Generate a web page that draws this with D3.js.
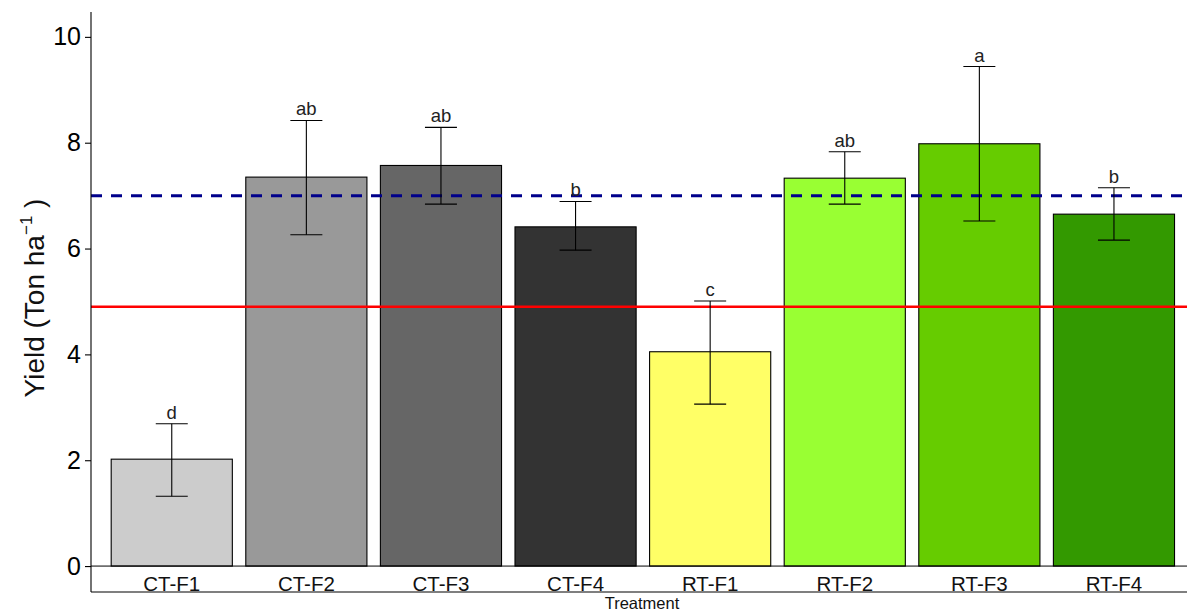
<!DOCTYPE html>
<html><head><meta charset="utf-8">
<script src="https://cdn.jsdelivr.net/npm/d3@7"></script>
<style>body{margin:0;background:#fff}svg{display:block}text{font-family:"Liberation Sans",Arial,sans-serif}</style>
</head><body>
<svg id="c" width="1187" height="613"></svg>
<script>
const categories = ["CT-F1","CT-F2","CT-F3","CT-F4","RT-F1","RT-F2","RT-F3","RT-F4"];
const yieldMean = [2.02, 7.35, 7.57, 6.41, 4.05, 7.33, 7.98, 6.65];
const errLow    = [1.32, 6.26, 6.84, 5.97, 3.06, 6.84, 6.52, 6.16];
const errHigh   = [2.69, 8.42, 8.29, 6.89, 5.01, 7.83, 9.44, 7.15];
const letters   = ["d","ab","ab","b","c","ab","a","b"];
const fills     = ["#CCCCCC","#999999","#666666","#333333","#FFFF66","#99FF33","#66CC00","#339900"];
const yTicks    = [0,2,4,6,8,10];
const refDashed = 7.0;
const refRed    = 4.9;

const svg = d3.select("#c");
const L = 91, T = 12, B = 592;
const step = 134.6;
const x0 = L + 0.6*step - 0.5*step;
const x = d3.scaleBand().domain(categories).range([x0, x0 + step*categories.length]).paddingInner(0.1).paddingOuter(0.05);
const y = d3.scaleLinear().domain([-0.49, 10.47]).range([B, T]);

// bars
svg.append("g").selectAll("rect").data(categories).join("rect")
  .attr("x", d => x(d)).attr("width", x.bandwidth())
  .attr("y", (d,i) => y(yieldMean[i])).attr("height", (d,i) => y(0) - y(yieldMean[i]))
  .attr("fill", (d,i) => fills[i]).attr("stroke", "#000").attr("stroke-width", 1.1);

// zero line
svg.append("line").attr("x1", L).attr("x2", 1187).attr("y1", y(0)).attr("y2", y(0)).attr("stroke","#000").attr("stroke-width",1);

// reference lines
svg.append("line").attr("x1", L).attr("x2", 1187).attr("y1", y(refRed)).attr("y2", y(refRed))
  .attr("stroke", "#FF0000").attr("stroke-width", 2.5);
svg.append("line").attr("x1", L).attr("x2", 1187).attr("y1", y(refDashed)).attr("y2", y(refDashed))
  .attr("stroke", "#00008B").attr("stroke-width", 3).attr("stroke-dasharray", "11,9");

// error bars + letters
const cap = 16;
categories.forEach((c,i) => {
  const cx = x(c) + x.bandwidth()/2;
  const eg = svg.append("g").attr("stroke","#000").attr("stroke-width",1.1);
  eg.append("line").attr("x1",cx).attr("x2",cx).attr("y1",y(errLow[i])).attr("y2",y(errHigh[i]));
  eg.append("line").attr("x1",cx-cap).attr("x2",cx+cap).attr("y1",y(errLow[i])).attr("y2",y(errLow[i]));
  eg.append("line").attr("x1",cx-cap).attr("x2",cx+cap).attr("y1",y(errHigh[i])).attr("y2",y(errHigh[i]));
  svg.append("text").attr("x",cx).attr("y",y(errHigh[i]) - 5).attr("text-anchor","middle")
    .attr("font-size",18.5).attr("fill","#222").text(letters[i]);
});

// axis lines
svg.append("line").attr("x1",L).attr("x2",L).attr("y1",T).attr("y2",B).attr("stroke","#000").attr("stroke-width",1.1);
svg.append("line").attr("x1",L).attr("x2",1187).attr("y1",B).attr("y2",B).attr("stroke","#000").attr("stroke-width",1.1);

// y axis
const ya = svg.append("g").attr("transform",`translate(${L},0)`)
  .call(d3.axisLeft(y).tickValues(yTicks).tickSize(6).tickPadding(4).tickFormat(d3.format("d")));
ya.select(".domain").remove();
ya.selectAll("text").attr("font-size",25).attr("fill","#000").attr("font-family","Liberation Sans, Arial, sans-serif");
ya.selectAll("line").attr("stroke","#000").attr("stroke-width",1.1);

// x tick labels
const xa = svg.append("g").attr("transform",`translate(0,${y(0)})`)
  .call(d3.axisBottom(x).tickSize(0).tickPadding(6));
xa.select(".domain").remove();
xa.selectAll("text").attr("font-size",20.5).attr("fill","#111").attr("dy",null).attr("y",null)
  .attr("transform",`translate(0,${B - 1 - y(0)})`).attr("font-family","Liberation Sans, Arial, sans-serif");

// titles
svg.append("text").attr("x", 642).attr("y", 609).attr("text-anchor","middle").attr("font-size",16.5).attr("fill","#111").text("Treatment");
const yt = svg.append("text").attr("transform","translate(44,298) rotate(-90)").attr("text-anchor","middle").attr("font-size",28).attr("fill","#111");
yt.append("tspan").text("Yield (Ton ha");
yt.append("tspan").attr("font-size",17).attr("dy",-12).text("\u22121");
yt.append("tspan").attr("dy",12).text(" )");
</script>
</body></html>
